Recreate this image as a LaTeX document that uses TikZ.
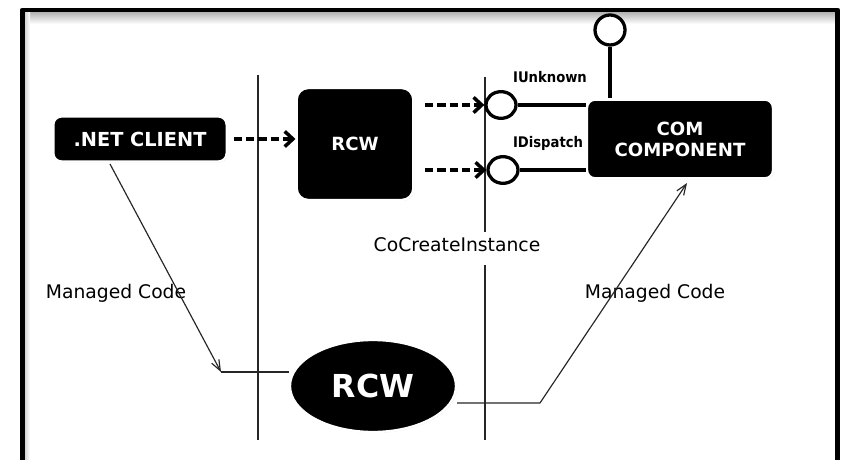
\documentclass[tikz,border=0pt]{standalone}
\usepackage{fontspec}
\setmainfont{DejaVu Sans}
\newfontfamily\labelfont{DejaVu Sans Condensed}
\usetikzlibrary{arrows.meta,shapes.geometric,shadows}

\begin{document}
\begin{tikzpicture}[x=0.03cm, y=-0.03cm, line join=round, >={Straight Barb[length=9pt,width=7pt]},
	blackbox/.style={rectangle, rounded corners=7pt, fill=black, draw=white, line width=2pt, text=white, font=\bfseries\fontsize{15.5}{18}\selectfont, align=center, inner sep=0pt, drop shadow={opacity=0.3, shadow xshift=0.8pt, shadow yshift=-0.8pt}},
	iface/.style={ellipse, draw, line width=2.8pt, fill=white, minimum width=0.9cm, minimum height=0.8cm, inner sep=0pt},
	dasharrow/.style={line width=3pt, dash pattern=on 7pt off 3.5pt, -{Straight Barb[length=7pt,width=13pt]}},
	stick/.style={line width=3pt},
	wire/.style={line width=1pt, black!85},
	plain/.style={font=\fontsize{16}{19}\selectfont},
	ifname/.style={font=\labelfont\bfseries\fontsize{12.5}{15}\selectfont}]
	\useasboundingbox (0,0) rectangle (841,460);
	% frame
	\shade [top color=gray!60, bottom color=white] (24,12) rectangle (836,24);
	\shade [left color=gray!40, right color=white] (24,12) rectangle (30,480);
	\draw [line width=4.2pt] (22.5,10) rectangle (837.5,480);
	% separators
	\draw [wire] (258,75)--(258,440);
	\draw [wire] (485,77)--(485,232);
	\draw [wire] (485,265)--(485,440);
	% boxes
	\node [blackbox, minimum width=5.2cm, minimum height=1.35cm, font=\bfseries\fontsize{16.5}{19}\selectfont] (client) at (140,139) {.NET CLIENT};
	\node [blackbox, minimum width=3.5cm, minimum height=3.36cm, rounded corners=10pt] (rcwbox) at (355,144) {RCW};
	\node [blackbox, minimum width=5.58cm, minimum height=2.36cm] (com) at (680,139) {COM\\COMPONENT};
	\node [blackbox, ellipse, minimum width=4.98cm, minimum height=2.76cm, font=\bfseries\fontsize{27}{30}\selectfont] (rcw) at (373,386) {RCW};
	% interfaces
	\node [iface] (iunk) at (501,105) {};
	\node [iface] (idisp) at (503,170) {};
	\node [iface, minimum height=0.9cm] (itop) at (610,30) {};
	\draw [stick] (iunk.east)--(iunk -| com.west);
	\draw [stick] (idisp.east)--(idisp -| com.west);
	\draw [stick] (itop.south)--(itop |- com.north);
	\node [ifname] (unkname) at (550,77) {IUnknown};
	\node [ifname] (dispname) at (548,143) {IDispatch};
	% calls
	\draw [dasharrow] (client.east)++(6,0)--(rcwbox.west |- client.east);
	\coordinate (s1) at (425,105);
	\coordinate (s2) at (425,170);
	\draw [dasharrow] (s1)--(iunk.west);
	\draw [dasharrow] (s2)--(idisp.west);
	% texts
	\node [plain] (cci) at (457,245) {CoCreateInstance};
	\node [plain] (mcleft) at (116,293) {Managed Code};
	\node [plain] (mcright) at (655,293) {Managed Code};
	% managed paths
	\coordinate (cl) at (110,164);
	\coordinate (c1) at (221,372);
	\coordinate (c2) at (540,403);
	\coordinate (ct) at (687,183);
	\draw [->, wire] (cl)--(c1);
	\draw [wire] (c1)--(rcw.west |- c1);
	\draw [->, wire] (rcw.east |- c2)--(c2)--(ct);
\end{tikzpicture}
\end{document}
